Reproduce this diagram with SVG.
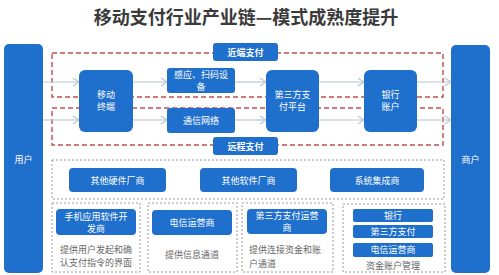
<svg xmlns="http://www.w3.org/2000/svg" width="499" height="275" viewBox="0 0 499 275">
<defs>
<style>
.b{fill:#1f6fcc}
.t{fill:#fff;font-family:"Noto Sans CJK SC","Noto Sans",sans-serif;font-size:9px;text-anchor:middle}
.lb{fill:#fff;font-family:"Noto Sans CJK SC",sans-serif;font-size:9px;font-weight:bold;text-anchor:middle}
.d{fill:#666;font-family:"Noto Sans CJK SC",sans-serif;font-size:9px}
.red{fill:none;stroke:#c0504d;stroke-width:1.4;stroke-dasharray:5 3}
.gr{fill:none;stroke:#9a9a9a;stroke-width:1;stroke-dasharray:2 2}
.ar{stroke:#b8c6d0;stroke-width:1.2;fill:none;marker-end:url(#ah)}
</style>
<marker id="ah" viewBox="0 0 8 10" refX="7" refY="5" markerWidth="8" markerHeight="10" markerUnits="userSpaceOnUse" orient="auto">
<path d="M1,1 L7,5 L1,9" fill="none" stroke="#b8c6d0" stroke-width="1.2"/>
</marker>
</defs>
<rect width="499" height="275" fill="#fff"/>
<text x="246" y="24" font-family="Noto Sans CJK SC,sans-serif" font-size="18" font-weight="bold" fill="#3a3a3a" text-anchor="middle">移动支付行业产业链—模式成熟度提升</text>

<g id="regions">
<rect class="red" x="52" y="53" width="391" height="44"/>
<rect class="red" x="52" y="108" width="391" height="37"/>
<rect class="gr" x="52" y="160" width="392" height="39"/>
<rect class="gr" x="52" y="203" width="88" height="69"/>
<rect class="gr" x="148" y="203" width="89" height="69"/>
<rect class="gr" x="242" y="203" width="91" height="69"/>
<rect class="gr" x="343" y="204" width="102" height="68"/>
</g>

<g id="connectors">
<line class="ar" x1="43" y1="82" x2="79" y2="82"/>
<line class="ar" x1="133" y1="82" x2="167" y2="82"/>
<line class="ar" x1="235" y1="82" x2="266" y2="82"/>
<line class="ar" x1="319" y1="82" x2="364" y2="82"/>
<line class="ar" x1="417" y1="82" x2="451" y2="82"/>
<line class="ar" x1="43" y1="120" x2="79" y2="120"/>
<line class="ar" x1="133" y1="120" x2="167" y2="120"/>
<line class="ar" x1="235" y1="120" x2="266" y2="120"/>
<line class="ar" x1="319" y1="120" x2="364" y2="120"/>
<line class="ar" x1="417" y1="120" x2="451" y2="120"/>
</g>

<g id="user"><rect class="b" x="4" y="44" width="39" height="229" rx="5"/><text class="t" x="23.5" y="163">用户</text></g>
<g id="merchant"><rect class="b" x="451" y="45" width="39" height="228" rx="5"/><text class="t" x="470.5" y="163">商户</text></g>

<g id="near"><rect class="b" x="213" y="43" width="65" height="18" rx="3"/><text class="lb" x="245.5" y="55.5">近端支付</text></g>
<g id="remote"><rect class="b" x="213" y="137" width="65" height="18" rx="3"/><text class="lb" x="245.5" y="149.5">远程支付</text></g>

<g id="mobile"><rect class="b" x="79" y="70" width="54" height="62" rx="6"/><text class="t" x="106" y="98">移动</text><text class="t" x="106" y="110">终端</text></g>
<g id="sensor"><rect class="b" x="167" y="68" width="68" height="25" rx="3"/><text class="t" x="201" y="78" font-size="8.5">感应、扫码设</text><text class="t" x="201" y="90" font-size="8.5">备</text></g>
<g id="network"><rect class="b" x="167" y="108" width="68" height="25" rx="3"/><text class="t" x="201" y="123.5">通信网络</text></g>
<g id="platform"><rect class="b" x="266" y="70" width="53" height="62" rx="6"/><text class="t" x="292.5" y="98">第三方支</text><text class="t" x="292.5" y="110">付平台</text></g>
<g id="bank"><rect class="b" x="364" y="70" width="53" height="62" rx="6"/><text class="t" x="390.5" y="98">银行</text><text class="t" x="390.5" y="110">账户</text></g>

<g id="hw"><rect class="b" x="69" y="168" width="97" height="24" rx="4"/><text class="t" x="117.5" y="183.5">其他硬件厂商</text></g>
<g id="sw"><rect class="b" x="200" y="168" width="97" height="24" rx="4"/><text class="t" x="248.5" y="183.5">其他软件厂商</text></g>
<g id="si"><rect class="b" x="330" y="168" width="94" height="24" rx="4"/><text class="t" x="377" y="183.5">系统集成商</text></g>

<g id="app"><rect class="b" x="56" y="209" width="80" height="26" rx="4"/><text class="t" x="96" y="219.5">手机应用软件开</text><text class="t" x="96" y="231.5">发商</text>
<text class="d" x="60" y="253">提供用户发起和确</text><text class="d" x="60" y="266">认支付指令的界面</text></g>
<g id="telecom"><rect class="b" x="152" y="210" width="80" height="25" rx="4"/><text class="t" x="192" y="225.5">电信运营商</text>
<text class="d" x="192" y="258" text-anchor="middle">提供信息通道</text></g>
<g id="tpo"><rect class="b" x="247" y="209" width="80" height="25" rx="4"/><text class="t" x="287" y="219">第三方支付运营</text><text class="t" x="287" y="231">商</text>
<text class="d" x="249" y="253">提供连接资金和账</text><text class="d" x="249" y="267">户通道</text></g>
<g id="funds"><rect class="b" x="353" y="209" width="80" height="13" rx="2"/><text class="t" x="393" y="218.5">银行</text>
<rect class="b" x="353" y="225" width="80" height="13" rx="2"/><text class="t" x="393" y="234.5">第三方支付</text>
<rect class="b" x="353" y="243" width="80" height="14" rx="2"/><text class="t" x="393" y="253">电信运营商</text>
<text class="d" x="393" y="269" text-anchor="middle">资金账户管理</text></g>
</svg>
